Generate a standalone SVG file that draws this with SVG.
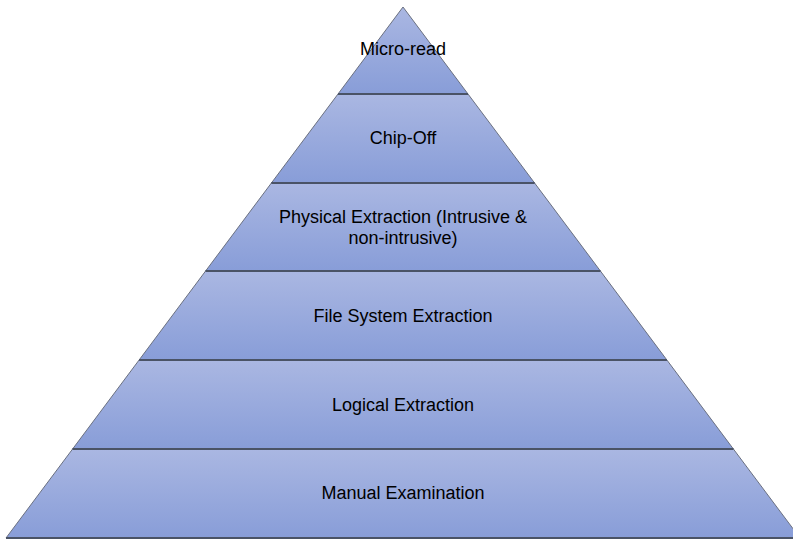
<svg xmlns="http://www.w3.org/2000/svg" width="793" height="540" viewBox="0 0 793 540">
<defs>
<linearGradient id="g" x1="0" y1="0" x2="0" y2="1">
<stop offset="0" stop-color="#aab7e2"/>
<stop offset="1" stop-color="#889dd8"/>
</linearGradient>
</defs>
<style>
.band{fill:url(#g);stroke:#6a7080;stroke-width:1}
.sep{stroke:#4a5366;stroke-width:2}
text{font-family:"Liberation Sans",Arial,sans-serif;font-size:18px;fill:#000;text-anchor:middle}
</style>
<rect width="793" height="540" fill="#fff"/>
<g id="micro-read">
<polygon class="band" points="403,7 468,94 338,94"/>
<text x="403" y="55">Micro-read</text>
</g>
<g id="chip-off">
<polygon class="band" points="338,94 468,94 534.6,183 271.4,183"/>
<text x="403" y="144">Chip-Off</text>
</g>
<g id="physical">
<polygon class="band" points="271.4,183 534.6,183 600.4,271 205.6,271"/>
<text x="403" y="223">Physical Extraction (Intrusive &amp;</text>
<text x="403" y="244">non-intrusive)</text>
</g>
<g id="file-system">
<polygon class="band" points="205.6,271 600.4,271 666.9,360 139.1,360"/>
<text x="403" y="322">File System Extraction</text>
</g>
<g id="logical">
<polygon class="band" points="139.1,360 666.9,360 733.4,449 72.6,449"/>
<text x="403" y="411">Logical Extraction</text>
</g>
<g id="manual">
<polygon class="band" points="72.6,449 733.4,449 800,538 6,538"/>
<text x="403" y="499">Manual Examination</text>
</g>
<g id="separators">
<line class="sep" x1="338" y1="94" x2="468" y2="94"/>
<line class="sep" x1="271.4" y1="183" x2="534.6" y2="183"/>
<line class="sep" x1="205.6" y1="271" x2="600.4" y2="271"/>
<line class="sep" x1="139.1" y1="360" x2="666.9" y2="360"/>
<line class="sep" x1="72.6" y1="449" x2="733.4" y2="449"/>
<line class="sep" x1="6" y1="538" x2="800" y2="538"/>
</g>
</svg>
